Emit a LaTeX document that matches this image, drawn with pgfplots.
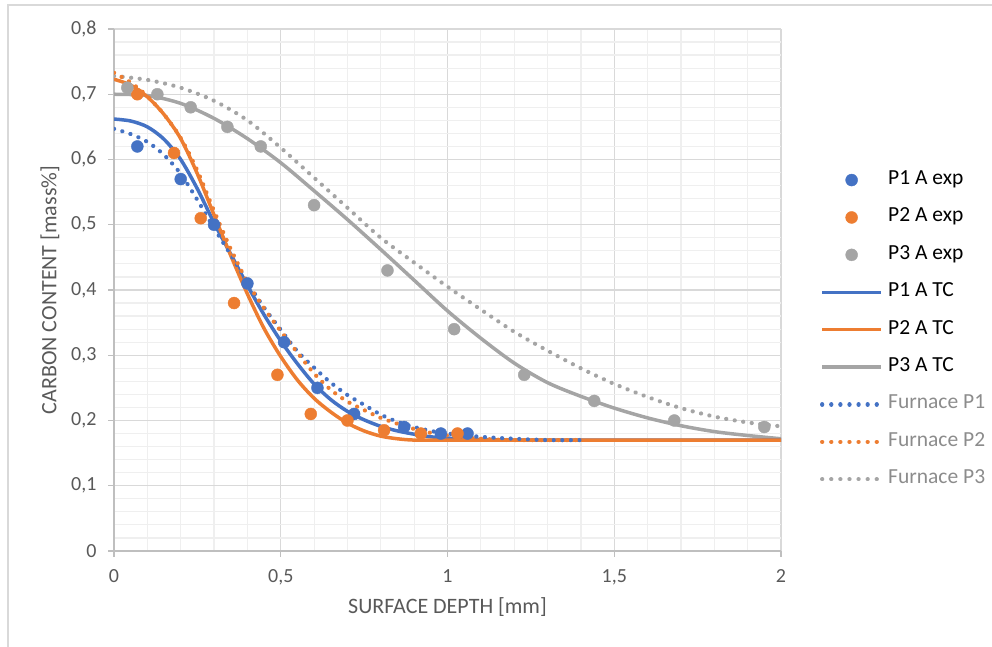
\documentclass[border=0pt]{standalone}
\usepackage{pgfplots}
\pgfplotsset{compat=1.18}
\usepackage{fontspec}
\setmainfont{Carlito}
\definecolor{cblue}{HTML}{4472C4}
\definecolor{corange}{HTML}{ED7D31}
\definecolor{cgray}{HTML}{A5A5A5}
\definecolor{ctext}{HTML}{595959}
\definecolor{clegtext}{HTML}{8C8C8C}
\definecolor{cgrid}{HTML}{D9D9D9}
\definecolor{cminor}{HTML}{EFEFEF}
\definecolor{caxis}{HTML}{BFBFBF}
\definecolor{cborder}{HTML}{D9D9D9}
\begin{document}
\begin{tikzpicture}
\begin{axis}[
  at={(114pt,96pt)}, anchor=south west,
  scale only axis, width=667pt, height=522pt,
  xmin=0, xmax=2, ymin=0, ymax=0.8,
  xtick={0,0.5,1,1.5,2},
  ytick={0,0.1,0.2,0.3,0.4,0.5,0.6,0.7,0.8},
  minor x tick num=4, minor y tick num=4,
  grid=both,
  major grid style={cgrid, line width=1.2pt},
  minor grid style={cminor, line width=1.2pt},
  axis x line*=bottom, axis y line*=left,
  axis line style={caxis, line width=1.2pt, -},
  tick align=outside, major tick length=6pt, minor tick length=0pt,
  tick style={caxis, line width=1.2pt},
  ticklabel style={font=\fontsize{20}{22}\selectfont, text=ctext},
  xticklabel style={yshift=-9pt},
  yticklabel style={xshift=-8pt},
  /pgf/number format/assume math mode=true,
  /pgf/number format/use comma,
  xlabel={SURFACE DEPTH [mm]},
  ylabel={CARBON CONTENT [mass\%]},
  label style={font=\fontsize{22}{26}\selectfont, text=ctext},
  xlabel style={at={(axis description cs:0.5,-0.107)}, anchor=center},
  ylabel style={at={(axis description cs:-0.096,0.5)}, anchor=center, rotate=0},
  legend cell align=left,
  legend style={draw=none, fill=none, inner sep=0pt, outer sep=0pt,
    at={(axis description cs:1.0585,0.424)}, anchor=west,
    row sep=18.4pt,
    nodes={inner sep=0pt, text height=14pt, text depth=5pt, font=\fontsize{21.5}{24}\selectfont},
    /tikz/every odd column/.append style={column sep=5pt}},
  legend image code/.code={\draw[mark repeat=2,mark phase=2,#1] plot coordinates {(0pt,0pt) (29.5pt,0pt) (59pt,0pt)};},
]
% legend entries in reference order
\addlegendimage{only marks, mark=*, mark size=6pt, cblue}
\addlegendentry{P1 A exp}
\addlegendimage{only marks, mark=*, mark size=6pt, corange}
\addlegendentry{P2 A exp}
\addlegendimage{only marks, mark=*, mark size=6pt, cgray}
\addlegendentry{P3 A exp}
\addlegendimage{cblue, line width=3.5pt, mark=none}
\addlegendentry{P1 A TC}
\addlegendimage{corange, line width=3.5pt, mark=none}
\addlegendentry{P2 A TC}
\addlegendimage{cgray, line width=3.5pt, mark=none}
\addlegendentry{P3 A TC}
\addlegendimage{cblue, line width=4.2pt, line cap=round, dash pattern=on 0.1pt off 9pt, mark=none}
\addlegendentry[text=clegtext]{Furnace P1}
\addlegendimage{corange, line width=4.2pt, line cap=round, dash pattern=on 0.1pt off 9pt, mark=none}
\addlegendentry[text=clegtext]{Furnace P2}
\addlegendimage{cgray, line width=4.2pt, line cap=round, dash pattern=on 0.1pt off 9pt, mark=none}
\addlegendentry[text=clegtext]{Furnace P3}

% P3 A TC
\addplot[forget plot, cgray, line width=3.5pt, smooth, tension=0.5, mark=none] table {
x y
0 0.700
0.1 0.698
0.2 0.686
0.3 0.663
0.4 0.632
0.5 0.595
0.6 0.552
0.7 0.508
0.8 0.462
0.9 0.415
1.0 0.368
1.1 0.326
1.2 0.288
1.3 0.258
1.4 0.237
1.5 0.219
1.6 0.204
1.7 0.192
1.8 0.183
1.9 0.177
2.0 0.172
};
% Furnace P3
\addplot[forget plot, cgray, line width=4.2pt, line cap=round, dash pattern=on 0.1pt off 8.5pt, smooth, tension=0.5, mark=none] table {
x y
0 0.728
0.1 0.722
0.2 0.710
0.3 0.690
0.4 0.660
0.5 0.618
0.6 0.572
0.7 0.526
0.8 0.480
0.9 0.442
1.0 0.405
1.1 0.370
1.2 0.336
1.3 0.307
1.4 0.280
1.5 0.256
1.6 0.236
1.7 0.219
1.8 0.206
1.9 0.197
2.0 0.191
};
% P1 A TC
\addplot[forget plot, cblue, line width=3.5pt, smooth, tension=0.5, mark=none] table {
x y
0 0.662
0.05 0.659
0.1 0.650
0.15 0.631
0.2 0.600
0.25 0.555
0.3 0.503
0.35 0.455
0.4 0.407
0.45 0.362
0.5 0.322
0.55 0.287
0.6 0.256
0.65 0.232
0.7 0.214
0.75 0.201
0.8 0.191
0.85 0.184
0.9 0.179
0.95 0.175
1.0 0.173
1.1 0.171
1.2 0.170
1.5 0.170
2.0 0.170
};
% P2 A TC
\addplot[forget plot, corange, line width=3.5pt, smooth, tension=0.5, mark=none] table {
x y
0 0.723
0.05 0.714
0.1 0.696
0.15 0.669
0.2 0.632
0.25 0.578
0.3 0.515
0.35 0.453
0.4 0.394
0.45 0.341
0.5 0.298
0.55 0.262
0.6 0.234
0.65 0.213
0.7 0.196
0.75 0.184
0.8 0.176
0.85 0.172
0.9 0.170
1.0 0.170
2.0 0.170
};
% Furnace P1
\addplot[forget plot, cblue, line width=4.2pt, line cap=round, dash pattern=on 0.1pt off 8.5pt, smooth, tension=0.5, mark=none] table {
x y
0 0.647
0.05 0.639
0.1 0.627
0.15 0.607
0.2 0.578
0.25 0.538
0.3 0.495
0.35 0.454
0.4 0.412
0.45 0.373
0.5 0.339
0.55 0.306
0.6 0.281
0.65 0.258
0.7 0.239
0.75 0.224
0.8 0.209
0.85 0.198
0.9 0.190
0.95 0.184
1.0 0.180
1.1 0.175
1.2 0.172
1.3 0.170
1.4 0.170
};
% Furnace P2
\addplot[forget plot, corange, line width=4.2pt, line cap=round, dash pattern=on 0.1pt off 8.5pt, smooth, tension=0.5, mark=none] table {
x y
0 0.733
0.05 0.718
0.1 0.697
0.15 0.669
0.2 0.633
0.25 0.583
0.3 0.521
0.35 0.463
0.4 0.412
0.45 0.372
0.5 0.337
0.55 0.304
0.6 0.272
0.65 0.247
0.7 0.229
0.75 0.216
0.8 0.204
0.85 0.195
0.9 0.187
0.95 0.181
1.0 0.177
1.1 0.172
1.2 0.170
1.4 0.170
};
% P1 A exp
\addplot[forget plot, only marks, mark=*, mark size=6pt, cblue] table {
x y
0.07 0.62
0.20 0.57
0.30 0.50
0.40 0.41
0.51 0.32
0.61 0.25
0.72 0.21
0.87 0.19
0.98 0.18
1.06 0.18
};
% P2 A exp
\addplot[forget plot, only marks, mark=*, mark size=6pt, corange] table {
x y
0.07 0.70
0.18 0.61
0.26 0.51
0.36 0.38
0.49 0.27
0.59 0.21
0.70 0.20
0.81 0.185
0.92 0.18
1.03 0.18
};
% P3 A exp
\addplot[forget plot, only marks, mark=*, mark size=6pt, cgray] table {
x y
0.04 0.71
0.13 0.70
0.23 0.68
0.34 0.65
0.44 0.62
0.60 0.53
0.82 0.43
1.02 0.34
1.23 0.27
1.44 0.23
1.68 0.20
1.95 0.19
};
\end{axis}
\draw[cborder, line width=1.5pt] (8pt,-20pt) rectangle (1020pt,642pt);
\pgfresetboundingbox
\path (0pt,0pt) rectangle (992pt,647pt);
\end{tikzpicture}
\end{document}
